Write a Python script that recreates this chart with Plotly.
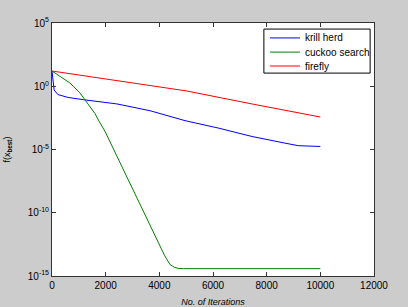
import plotly.graph_objects as go

# Krill herd
kh_iter = [0, 30, 80, 220, 600, 1160, 2420, 3650, 4960, 6190, 7450, 8680, 9180, 10000]
kh_val = [16, 2.5, 0.5, 0.22, 0.13, 0.087, 0.04, 0.0117, 1.9e-3, 5.0e-4, 1.07e-4, 3.2e-5, 2.0e-5, 1.74e-5]

# Cuckoo search
cs_iter = [0, 180, 400, 670, 1040, 1250, 1420, 1600, 1790, 1975, 2500, 3000, 3500, 4000, 4200, 4400, 4550, 4700, 4900, 10000]
cs_val = [16, 8.5, 4.5, 1.8, 0.3, 0.07, 0.026, 7e-3, 1.26e-3, 2.7e-4, 1.3e-6, 8e-9, 5e-11, 3e-13, 4e-14, 8e-15, 5e-15, 4e-15, 3.8e-15, 3.8e-15]

# Firefly
ff_iter = [0, 2500, 5000, 7450, 10000]
ff_val = [16, 2.5, 0.43, 0.04, 3.7e-3]

series_names = ["krill herd", "cuckoo search", "firefly"]
series_colors = ["#0000ff", "#008000", "#ff0000"]

x_ticks = [0, 2000, 4000, 6000, 8000, 10000, 12000]
y_ticks = [1e-15, 1e-10, 1e-5, 1, 1e5]
y_tick_text = ["10<sup>-15</sup>", "10<sup>-10</sup>", "10<sup>-5</sup>", "10<sup>0</sup>", "10<sup>5</sup>"]

fig = go.Figure()
for xs, ys, name, color in zip([kh_iter, cs_iter, ff_iter], [kh_val, cs_val, ff_val],
                               series_names, series_colors):
    fig.add_trace(go.Scatter(x=xs, y=ys, mode="lines", name=name,
                             line=dict(color=color, width=1), showlegend=False))

# MATLAB-style compact legend box
fig.add_shape(type="rect", xref="paper", yref="paper", x0=0.658, x1=0.988, y0=0.802, y1=0.976,
              line=dict(color="#000000", width=1), fillcolor="#ffffff", layer="above")
legend_y = [0.941, 0.885, 0.830]
for name, color, ly in zip(series_names, series_colors, legend_y):
    fig.add_shape(type="line", xref="paper", yref="paper", x0=0.677, x1=0.770, y0=ly, y1=ly,
                  line=dict(color=color, width=1), layer="above")
    fig.add_annotation(xref="paper", yref="paper", x=0.780, y=ly, text=name, showarrow=False,
                       xanchor="left", yanchor="middle", font=dict(size=10, color="#000000"))

axis_common = dict(showline=True, linecolor="#333333", linewidth=1, mirror="ticks",
                   ticks="inside", ticklen=4, tickcolor="#333333", showgrid=False,
                   zeroline=False, automargin=False,
                   tickfont=dict(family="Liberation Sans, Arial", size=10, color="#000000"))

fig.update_layout(
    width=408, height=307,
    margin=dict(l=52, r=34, t=23, b=31),
    paper_bgcolor="#cccccc", plot_bgcolor="#ffffff",
    font=dict(family="Liberation Sans, Arial", size=10, color="#000000"),
    showlegend=False,
    xaxis=dict(range=[0, 12000], tickvals=x_ticks, ticktext=[str(v) for v in x_ticks],
               title=dict(text="<i>No. of Iterations</i>", font=dict(size=9)),
               **axis_common),
    yaxis=dict(type="log", range=[-15, 5], tickvals=y_ticks, ticktext=y_tick_text,
               title=dict(text="f(x<sub><b>best</b></sub>)", font=dict(size=9)),
               **axis_common),
)

fig.write_html("out.html", config={"displayModeBar": False},
               post_script="document.body.style.margin='0';")
